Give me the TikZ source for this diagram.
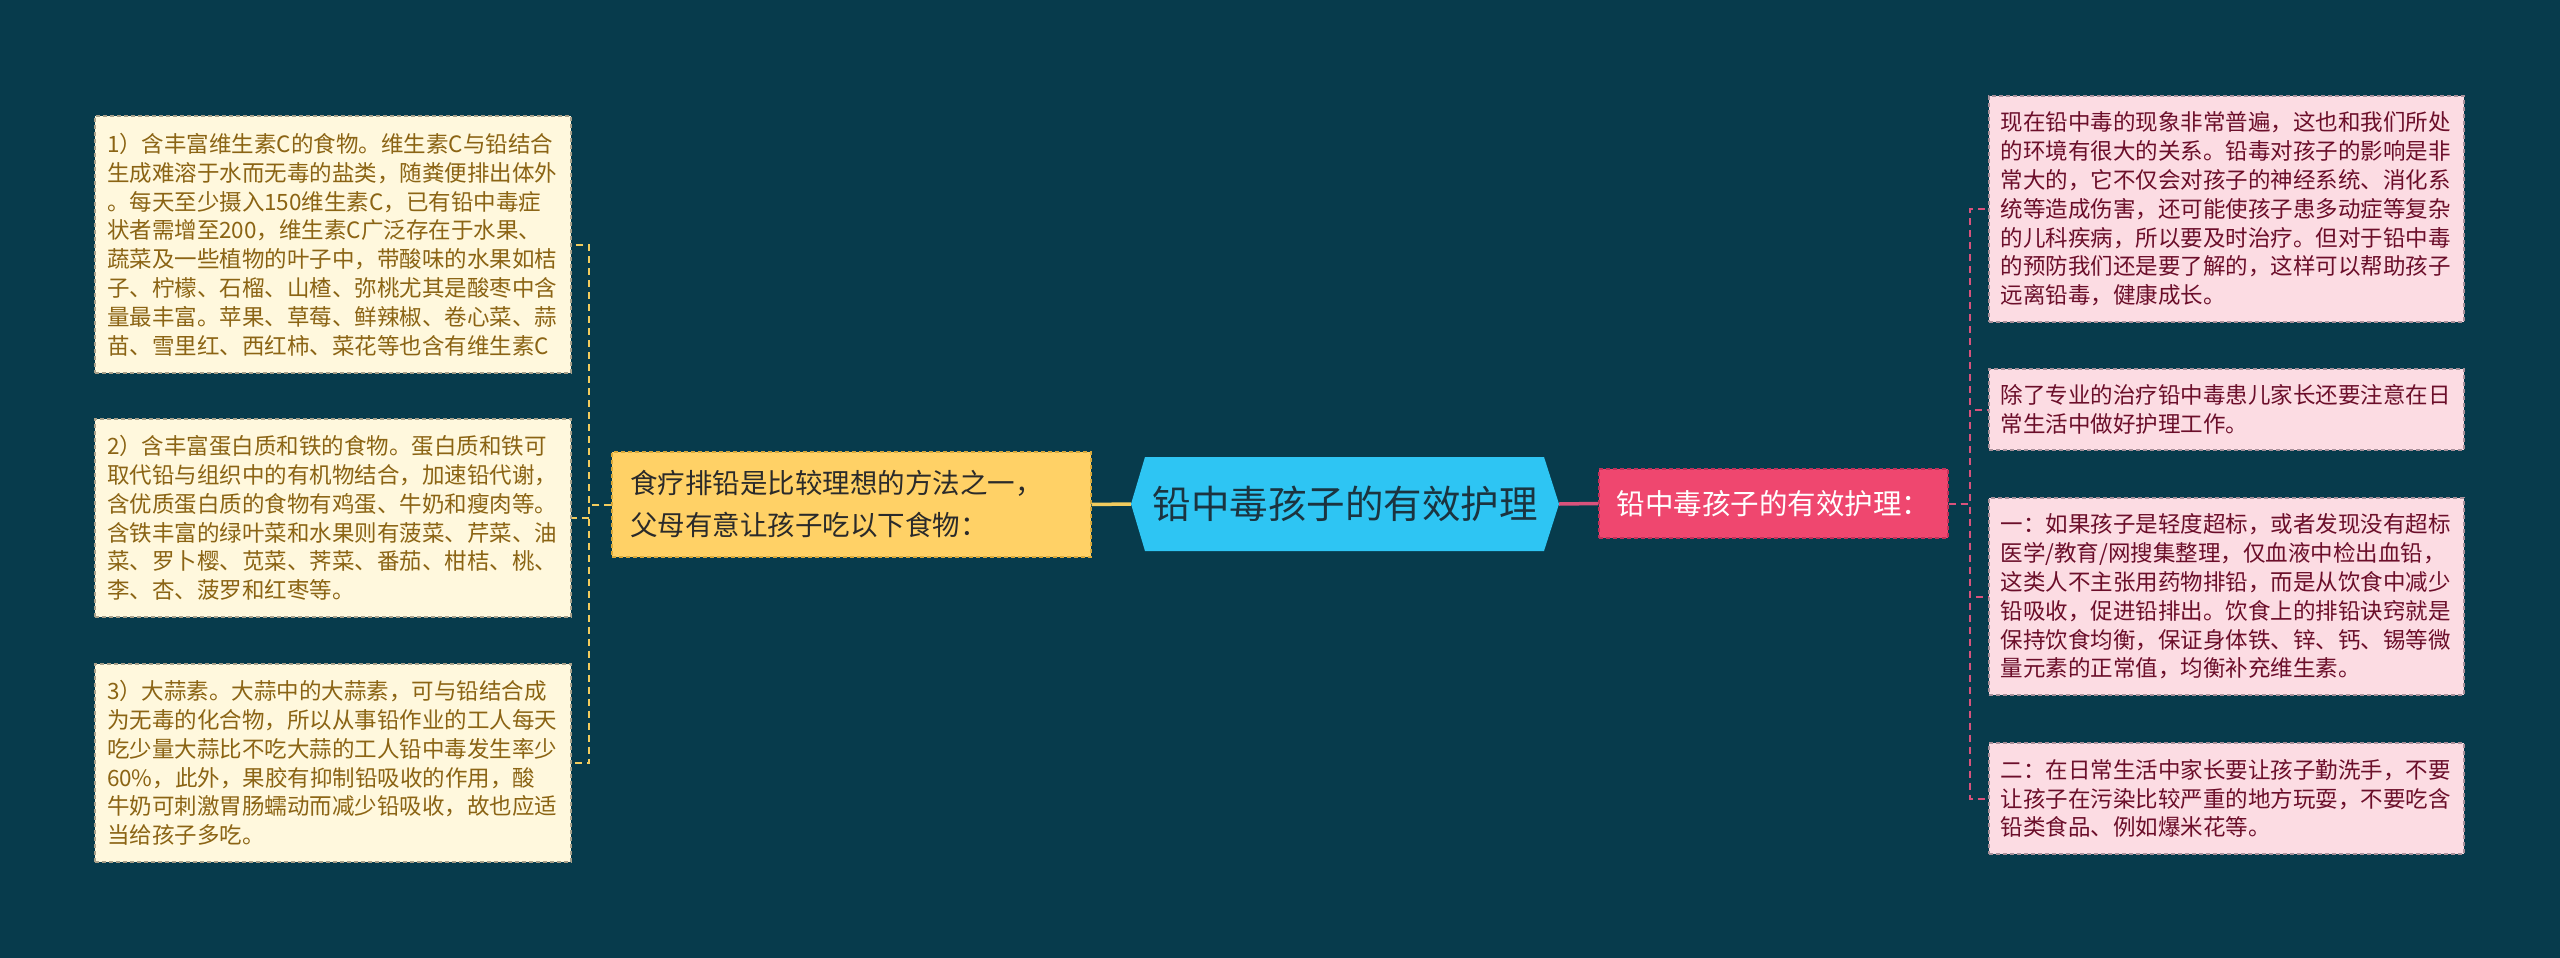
\documentclass[tikz,border=0pt]{standalone}
\usepackage{fontspec}
\setmainfont{Noto Sans CJK SC}
\definecolor{bgc}{HTML}{073B4C}
\definecolor{creamfill}{HTML}{FFF8DD}
\definecolor{creamtext}{HTML}{8B6414}
\definecolor{creamborder}{HTML}{A8A08A}
\definecolor{yelfill}{HTML}{FFD166}
\definecolor{yelborder}{HTML}{D9A93A}
\definecolor{yelline}{HTML}{F2CC5E}
\definecolor{bluefill}{HTML}{2EC5F3}
\definecolor{bluetext}{HTML}{1B3440}
\definecolor{pinkfill}{HTML}{EF476F}
\definecolor{pinkborder}{HTML}{C2305A}
\definecolor{pinkline}{HTML}{D9527C}
\definecolor{pinklight}{HTML}{FCDCE3}
\definecolor{pinkboxborder}{HTML}{A8909A}
\definecolor{maroontext}{HTML}{6B0E2A}
\definecolor{darktext}{HTML}{2A2A2A}
\begin{document}
\begin{tikzpicture}[x=1pt,y=-1pt,
  leafbox/.style={line width=1.3pt, dash pattern=on 4pt off 3pt, inner sep=0pt,
    text width=452pt, minimum width=476pt, align=left,
    font=\fontsize{22.5pt}{28.8pt}\selectfont},
  leftbox/.style={leafbox, draw=creamborder, fill=creamfill, text=creamtext},
  rightbox/.style={leafbox, draw=pinkboxborder, fill=pinklight, text=maroontext, minimum width=475pt},
  yelnode/.style={draw=yelborder, line width=1.3pt, dash pattern=on 4pt off 3pt, fill=yelfill,
    text=darktext, inner sep=0pt, text width=443pt, minimum width=479pt, minimum height=105pt,
    align=left, font=\fontsize{27.5pt}{42pt}\selectfont},
  centernode/.style={inner sep=0pt, minimum width=428pt, minimum height=94pt, text=bluetext,
    font=\fontsize{38.5pt}{44pt}\selectfont,
    path picture={\fill[bluefill] (path picture bounding box.west)
      -- ([xshift=14pt]path picture bounding box.north west)
      -- ([xshift=-15pt]path picture bounding box.north east)
      -- (path picture bounding box.east)
      -- ([xshift=-15pt]path picture bounding box.south east)
      -- ([xshift=14pt]path picture bounding box.south west) -- cycle;}},
  pinknode/.style={draw=pinkborder, line width=1.3pt, dash pattern=on 4pt off 3pt, fill=pinkfill,
    text=white, inner sep=0pt, minimum width=349pt, minimum height=69pt,
    font=\fontsize{28.5pt}{34pt}\selectfont},
  leftlink/.style={draw=yelline, line width=2pt, dash pattern=on 7pt off 5pt},
  rightlink/.style={draw=pinkline, line width=2pt, dash pattern=on 7pt off 5pt},
  yellink/.style={draw=yelline, line width=3.5pt},
  pinklink/.style={draw=pinkline, line width=3.5pt}
]
\fill[bgc] (0,0) rectangle (2560,958);
\useasboundingbox (0,0) rectangle (2560,958);

% left leaves
\node[leftbox, minimum height=257pt] (b1) at (333,244.5) {1）含丰富维生素C的食物。维生素C与铅结合\\
生成难溶于水而无毒的盐类，随粪便排出体外\\
。每天至少摄入150维生素C，已有铅中毒症\\
状者需增至200，维生素C广泛存在于水果、\\
蔬菜及一些植物的叶子中，带酸味的水果如桔\\
子、柠檬、石榴、山楂、弥桃尤其是酸枣中含\\
量最丰富。苹果、草莓、鲜辣椒、卷心菜、蒜\\
苗、雪里红、西红柿、菜花等也含有维生素C};

\node[leftbox, minimum height=198pt] (b2) at (333,518) {2）含丰富蛋白质和铁的食物。蛋白质和铁可\\
取代铅与组织中的有机物结合，加速铅代谢，\\
含优质蛋白质的食物有鸡蛋、牛奶和瘦肉等。\\
含铁丰富的绿叶菜和水果则有菠菜、芹菜、油\\
菜、罗卜樱、苋菜、荠菜、番茄、柑桔、桃、\\
李、杏、菠罗和红枣等。};

\node[leftbox, minimum height=198pt] (b3) at (333,763) {3）大蒜素。大蒜中的大蒜素，可与铅结合成\\
为无毒的化合物，所以从事铅作业的工人每天\\
吃少量大蒜比不吃大蒜的工人铅中毒发生率少\\
60\%，此外，果胶有抑制铅吸收的作用，酸\\
牛奶可刺激胃肠蠕动而减少铅吸收，故也应适\\
当给孩子多吃。};

% main branch nodes
\node[yelnode] (yel) at (851.5,504.5) {食疗排铅是比较理想的方法之一，\\父母有意让孩子吃以下食物：};
\node[centernode] (ctr) at (1345,504) {铅中毒孩子的有效护理};
\node[pinknode] (pk) at (1773.5,503.5) {铅中毒孩子的有效护理：};

% right leaves
\node[rightbox, minimum height=226pt] (r1) at (2226.5,209) {现在铅中毒的现象非常普遍，这也和我们所处\\
的环境有很大的关系。铅毒对孩子的影响是非\\
常大的，它不仅会对孩子的神经系统、消化系\\
统等造成伤害，还可能使孩子患多动症等复杂\\
的儿科疾病，所以要及时治疗。但对于铅中毒\\
的预防我们还是要了解的，这样可以帮助孩子\\
远离铅毒，健康成长。};

\node[rightbox, minimum height=81pt] (r2) at (2226.5,409.5) {除了专业的治疗铅中毒患儿家长还要注意在日\\
常生活中做好护理工作。};

\node[rightbox, minimum height=197pt] (r3) at (2226.5,596.5) {一：如果孩子是轻度超标，或者发现没有超标\\
医学/教育/网搜集整理，仅血液中检出血铅，\\
这类人不主张用药物排铅，而是从饮食中减少\\
铅吸收，促进铅排出。饮食上的排铅诀窍就是\\
保持饮食均衡，保证身体铁、锌、钙、锡等微\\
量元素的正常值，均衡补充维生素。};

\node[rightbox, minimum height=111pt] (r4) at (2226.5,798.5) {二：在日常生活中家长要让孩子勤洗手，不要\\
让孩子在污染比较严重的地方玩耍，不要吃含\\
铅类食品、例如爆米花等。};

% connectors
\draw[yellink] (yel.east) -- (ctr.west);
\draw[pinklink] (ctr.east) -- (pk.west);

\draw[leftlink] (yel.west) -- ++(-22,0) |- (b1.east);
\draw[leftlink] (yel.west) -- ++(-22,0) |- (b2.east);
\draw[leftlink] (yel.west) -- ++(-22,0) |- (b3.east);

\draw[rightlink] (pk.east) -- ++(21,0) |- (r1.west);
\draw[rightlink] (pk.east) -- ++(21,0) |- (r2.west);
\draw[rightlink] (pk.east) -- ++(21,0) |- (r3.west);
\draw[rightlink] (pk.east) -- ++(21,0) |- (r4.west);
\end{tikzpicture}
\end{document}
